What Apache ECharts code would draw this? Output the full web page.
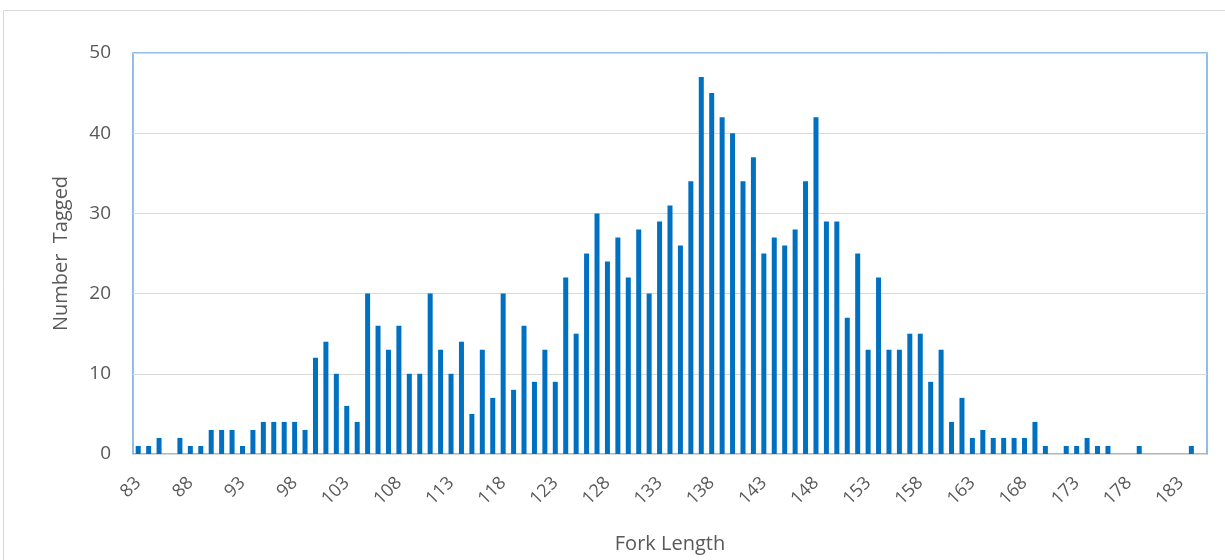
<!DOCTYPE html>
<html>
<head>
<meta charset="utf-8">
<script src="https://cdn.jsdelivr.net/npm/echarts@6/dist/echarts.min.js"></script>
<style>
html,body{margin:0;padding:0;background:#fff;}
#chart{width:1225px;height:560px;}
</style>
</head>
<body>
<div id="chart"></div>
<script>
// Fork length categories 83..185
var forkLengths = [83,84,85,86,87,88,89,90,91,92,93,94,95,96,97,98,99,100,101,102,103,104,105,106,107,108,109,110,111,112,113,114,115,116,117,118,119,120,121,122,123,124,125,126,127,128,129,130,131,132,133,134,135,136,137,138,139,140,141,142,143,144,145,146,147,148,149,150,151,152,153,154,155,156,157,158,159,160,161,162,163,164,165,166,167,168,169,170,171,172,173,174,175,176,177,178,179,180,181,182,183,184,185];
var numberTagged = [
  1,1,2,0,2,1,1,3,3,3,      // 83-92
  1,3,4,4,4,4,3,12,14,10,   // 93-102
  6,4,20,16,13,16,10,10,20,13, // 103-112
  10,14,5,13,7,20,8,16,9,13,   // 113-122
  9,22,15,25,30,24,27,22,28,20, // 123-132
  29,31,26,34,47,45,42,40,34,37, // 133-142
  25,27,26,28,34,42,29,29,17,25, // 143-152
  13,22,13,13,15,15,9,13,4,7,    // 153-162
  2,3,2,2,2,2,4,1,0,1,           // 163-172
  1,2,1,1,0,0,1,0,0,0,           // 173-182
  0,1,0                          // 183-185
];
var yTicks = [0,10,20,30,40,50];

var chart = echarts.init(document.getElementById('chart'));
var font = 'Open Sans';
chart.setOption({
  animation: false,
  backgroundColor: '#ffffff',
  graphic: [{
    type: 'rect',
    shape: {x: 3.5, y: 10.5, width: 1240, height: 600},
    style: {fill: 'none', stroke: '#D9D9D9', lineWidth: 1},
    silent: true
  }],
  grid: {
    left: 133, right: 18, top: 53, bottom: 106,
    show: true, borderColor: '#6FA8DC', borderWidth: 1.5, backgroundColor: 'transparent'
  },
  xAxis: {
    type: 'category',
    data: forkLengths,
    name: 'Fork Length',
    nameLocation: 'middle',
    nameGap: 80,
    nameTextStyle: {fontFamily: font, fontSize: 20, color: '#595959'},
    axisLine: {show: true, lineStyle: {color: '#D9D9D9', width: 1}},
    axisTick: {show: false},
    axisLabel: {
      interval: 4, rotate: 45, margin: 26,
      fontFamily: font, fontSize: 18, color: '#595959'
    }
  },
  yAxis: {
    type: 'value',
    min: 0, max: 50, interval: 10,
    name: 'Number  Tagged',
    nameLocation: 'middle',
    nameGap: 62,
    nameTextStyle: {fontFamily: font, fontSize: 20, color: '#595959'},
    axisLine: {show: false},
    axisTick: {show: false},
    axisLabel: {fontFamily: font, fontSize: 19, color: '#595959', margin: 22},
    splitLine: {lineStyle: {color: '#D9D9D9', width: 1}}
  },
  series: [{
    type: 'bar',
    data: numberTagged,
    barWidth: 5,
    itemStyle: {color: '#0070C0'}
  }]
});
</script>
</body>
</html>
